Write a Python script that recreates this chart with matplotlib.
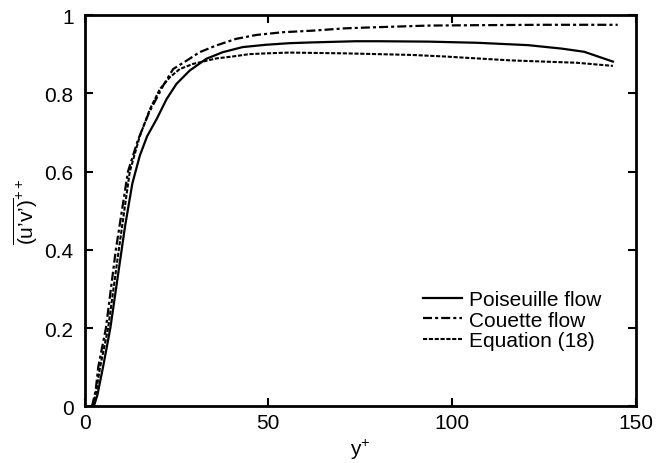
import matplotlib
matplotlib.use("Agg")
import matplotlib.pyplot as plt

plt.rcParams['font.family'] = ['Liberation Sans', 'DejaVu Sans']
plt.rcParams['mathtext.fontset'] = 'custom'
plt.rcParams['mathtext.rm'] = 'Liberation Sans'
plt.rcParams['lines.scale_dashes'] = False

# data
pois_x = [2.5, 3.5, 5.0, 7.0, 9.0, 11.0, 13.0, 15.0, 17.0, 19.6, 22.3, 25.0, 28.6, 33.1, 37.6,
          43.0, 49.4, 55.7, 62.0, 73.8, 80.0, 93.6, 107.0, 120.7, 130.0, 136.0, 143.8]
pois_y = [0.0, 0.03, 0.1, 0.2, 0.33, 0.46, 0.57, 0.64, 0.69, 0.734, 0.785, 0.824, 0.858, 0.888, 0.905,
          0.918, 0.924, 0.928, 0.930, 0.933, 0.933, 0.932, 0.929, 0.923, 0.914, 0.906, 0.881]

couette_x = [2.0, 3.0, 3.7, 5.8, 8.5, 11.8, 14.5, 17.5, 20.3, 21.4, 24.1, 27.7, 31.3, 35.8, 41.2,
             46.7, 53.9, 62.0, 71.0, 80.0, 93.6, 107.0, 125.0, 145.1]
couette_y = [0.0, 0.04, 0.1, 0.2, 0.4, 0.6, 0.68, 0.75, 0.80, 0.82, 0.862, 0.883, 0.905, 0.922, 0.939,
             0.949, 0.956, 0.960, 0.966, 0.969, 0.973, 0.974, 0.975, 0.975]

eq18_x = [2.2, 3.2, 4.2, 6.4, 9.3, 12.3, 15.0, 17.8, 20.5, 23.2, 25.9, 29.5, 33.1, 35.8, 40.3, 44.8,
          49.4, 55.7, 71.0, 80.0, 89.0, 98.0, 107.0, 116.0, 125.0, 134.0, 143.8]
eq18_y = [0.0, 0.04, 0.1, 0.2, 0.4, 0.6, 0.69, 0.76, 0.811, 0.841, 0.862, 0.875, 0.883, 0.889, 0.894, 0.900,
          0.902, 0.904, 0.902, 0.900, 0.898, 0.894, 0.889, 0.884, 0.881, 0.878, 0.870]

labels = ["Poiseuille flow", "Couette flow", "Equation (18)"]

fig = plt.figure(figsize=(6.56, 4.64), dpi=100)
ax = fig.add_axes([0.129, 0.122, 0.840, 0.8435])

ax.plot(pois_x, pois_y, color='black', lw=1.6, label=labels[0])
ax.plot(couette_x, couette_y, color='black', lw=1.6, dashes=(6.5, 2.2, 2.2, 2.2), label=labels[1])
ax.plot(eq18_x, eq18_y, color='black', lw=1.5, dashes=(3.0, 1.2), label=labels[2])

ax.set_xlim(0, 150)
ax.set_ylim(0, 1)
ax.set_xticks([0, 50, 100, 150])
ax.set_yticks([0, 0.2, 0.4, 0.6, 0.8, 1])
ax.set_yticklabels(['0', '0.2', '0.4', '0.6', '0.8', '1'])
ax.tick_params(direction='in', length=6, width=1.5, labelsize=15, top=True, right=True)
ax.tick_params(axis='x', pad=5)
ax.tick_params(axis='y', pad=8)
for s in ax.spines.values():
    s.set_linewidth(2)

ax.set_xlabel(r"y$^{+}$", fontsize=15, labelpad=3)
ax.set_ylabel(r"$\overline{\mathrm{(u’v’)}}^{\mathrm{++}}$", fontsize=15, labelpad=3)

ax.legend(loc='upper left', bbox_to_anchor=(0.595, 0.324), frameon=False, fontsize=15,
          borderpad=0, handlelength=1.9, handletextpad=0.3, labelspacing=0.08)

fig.savefig("out.png", dpi=100)
